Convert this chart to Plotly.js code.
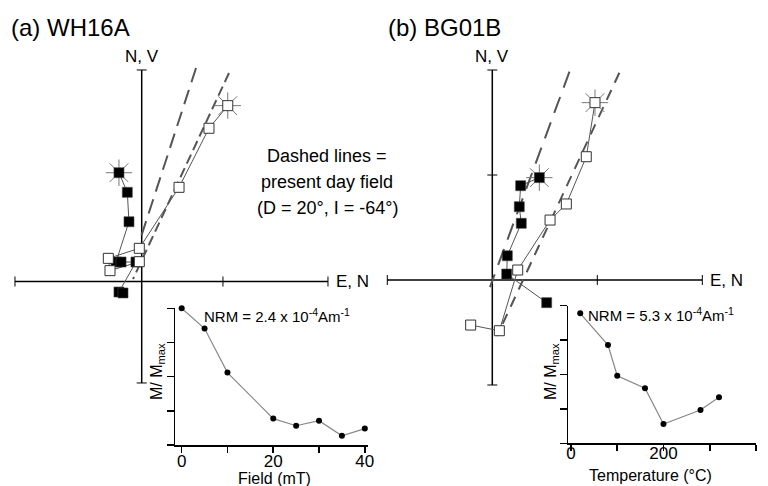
<!DOCTYPE html>
<html><head><meta charset="utf-8">
<script src="https://cdn.plot.ly/plotly-3.0.1.min.js"></script>
<style>html,body{margin:0;padding:0;background:#fff}</style>
</head><body><div id="chart" style="width:768px;height:486px"></div>
<script>
// ---------- Panel (a) WH16A : orthogonal vector plot ----------
const aHorizE = [-0.218, -0.138, -0.122, -0.246, -0.198, -0.055, -0.218, -0.179];
const aHorizN = [1.043, 0.855, 0.573, 0.187, 0.187, 0.187, -0.101, -0.110];
const aVertN  = [0.825, 0.645, 0.358, -0.023, -0.320, -0.304, -0.023];
const aVertUp = [1.686, 1.469, 0.903, 0.318, 0.222, 0.104, 0.190];
const aFieldHx = [0.521, -0.026], aFieldHy = [2.047, 0.369];
const aFieldVx = [0.837, -0.083], aFieldVy = [1.999, 0.024];
const aAxisE = [-1.215, 1.786], aAxisN = [-0.973, 2.028];
const aTicksE = [-1.215, 0.779, 1.786], aTicksN = [-0.973, 2.028];

// ---------- Panel (b) BG01B ----------
const bHorizE = [0.448, 0.270, 0.257, 0.276, 0.143, 0.137, 0.518];
const bHorizN = [0.975, 0.898, 0.698, 0.540, 0.231, 0.057, -0.216];
const bVertN  = [0.978, 0.895, 0.705, 0.550, 0.242, 0.067, -0.206];
const bVertUp = [1.689, 1.174, 0.724, 0.571, 0.095, -0.483, -0.429];
const bFieldHx = [0.735, -0.022], bFieldHy = [1.984, -0.067];
const bFieldVx = [1.210, 0.045], bFieldVy = [1.974, -0.533];
const bAxisE = [-1, 2], bAxisN = [-1, 2];
const bTicksE = [-1, 1, 2], bTicksN = [-1, 1, 2];

// ---------- Insets: demagnetisation curves ----------
const fieldSteps = [0, 5, 10, 20, 25, 30, 35, 40];
const fieldM = [1.0, 0.852, 0.530, 0.193, 0.141, 0.178, 0.067, 0.12];
const fieldTicks = [0, 20, 40];
const tempSteps = [20, 80, 100, 160, 200, 280, 320];
const tempM = [0.945, 0.714, 0.491, 0.400, 0.140, 0.242, 0.334];
const tempTicks = [0, 200, 400];
const mTicks = [0, 0.25, 0.5, 0.75, 1];

// ---------- layout helpers (pixel geometry) ----------
const W = 768, H = 486;
const FONT = 'Liberation Sans, Arial, Helvetica, sans-serif';
const PX = x => x / W, PY = y => 1 - y / H;
function xr(ox, unit, l, r) { return [(l - ox) / unit, (r - ox) / unit]; }
function yr(oy, unit, t, b) { return [(oy - b) / unit, (oy - t) / unit]; }

const A = {ox: 141.7, oy: 281.5, u: 104.3};
const B = {ox: 492.3, oy: 280.0, u: 105.0};

const traces = [];
function zij(xa, ya, hx, hy, vx, vy, fhx, fhy, fvx, fvy, dashH, dashV) {
  traces.push({x: fhx, y: fhy, xaxis: xa, yaxis: ya, mode: 'lines', hoverinfo: 'skip',
    line: {color: '#555', width: 2, dash: dashH}});
  traces.push({x: fvx, y: fvy, xaxis: xa, yaxis: ya, mode: 'lines', hoverinfo: 'skip',
    line: {color: '#555', width: 2, dash: dashV}});
  traces.push({x: hx, y: hy, xaxis: xa, yaxis: ya, mode: 'lines', cliponaxis: false,
    line: {color: '#555', width: 1}});
  traces.push({x: vx, y: vy, xaxis: xa, yaxis: ya, mode: 'lines', cliponaxis: false,
    line: {color: '#555', width: 1}});
  // NRM "sun" markers
  traces.push({x: [hx[0], vx[0]], y: [hy[0], vy[0]], xaxis: xa, yaxis: ya, mode: 'markers', cliponaxis: false,
    marker: {symbol: 'asterisk-open', size: 22, color: '#777', line: {color: '#777', width: 1}}});
  traces.push({x: hx, y: hy, xaxis: xa, yaxis: ya, mode: 'markers', cliponaxis: false,
    marker: {symbol: 'square', size: 10, color: '#000', line: {color: '#444', width: 0.6}}});
  traces.push({x: vx, y: vy, xaxis: xa, yaxis: ya, mode: 'markers', cliponaxis: false,
    marker: {symbol: 'square', size: 10, color: '#fff', line: {color: '#333', width: 1}}});
}
zij('x', 'y', aHorizE, aHorizN, aVertN, aVertUp, aFieldHx, aFieldHy, aFieldVx, aFieldVy, '15px,8px', '10px,5px');
zij('x2', 'y2', bHorizE, bHorizN, bVertN, bVertUp, bFieldHx, bFieldHy, bFieldVx, bFieldVy, '17px,10px', '11px,8px');

traces.push({x: fieldSteps, y: fieldM, xaxis: 'x3', yaxis: 'y3', mode: 'lines+markers', cliponaxis: false,
  line: {color: '#888', width: 1.2}, marker: {color: '#000', size: 6}});
traces.push({x: tempSteps, y: tempM, xaxis: 'x4', yaxis: 'y4', mode: 'lines+markers', cliponaxis: false,
  line: {color: '#888', width: 1.2}, marker: {color: '#000', size: 6}});

// axis cross shapes for the vector plots
const shapes = [];
function cross(xref, yref, axE, axN, tE, tN, u) {
  const t = 5 / u;
  shapes.push({type: 'line', xref, yref, x0: axE[0], x1: axE[1], y0: 0, y1: 0, layer: 'below', line: {color: '#000', width: 1.5}});
  shapes.push({type: 'line', xref, yref, x0: 0, x1: 0, y0: axN[0], y1: axN[1], layer: 'below', line: {color: '#000', width: 1.5}});
  tE.forEach(v => shapes.push({type: 'line', xref, yref, x0: v, x1: v, y0: -t, y1: t, layer: 'below', line: {color: '#000', width: 1}}));
  tN.forEach(v => shapes.push({type: 'line', xref, yref, y0: v, y1: v, x0: -t, x1: t, layer: 'below', line: {color: '#000', width: 1}}));
}
cross('x', 'y', aAxisE, aAxisN, aTicksE, aTicksN, A.u);
cross('x2', 'y2', bAxisE, bAxisN, bTicksE, bTicksN, B.u);

function ann(text, x, y, size, opts) {
  return Object.assign({text, x: PX(x), y: PY(y), xref: 'paper', yref: 'paper', showarrow: false,
    xanchor: 'center', yanchor: 'middle', font: {family: FONT, size, color: '#000'}}, opts || {});
}
const annotations = [
  ann('(a) WH16A', 9, 28, 24, {xanchor: 'left'}),
  ann('(b) BG01B', 386, 28, 24, {xanchor: 'left'}),
  ann('N, V', 141.7, 57, 17),
  ann('N, V', 492.3, 57, 17),
  ann('E, N', 334, 281, 17, {xanchor: 'left'}),
  ann('E, N', 708, 280, 17, {xanchor: 'left'}),
  ann('Dashed lines =', 327, 156, 18),
  ann('present day field', 327, 182, 18),
  ann('(D = 20°, I = -64°)', 327, 208, 18),
  ann('NRM = 2.4 x 10<sup>-4</sup>Am<sup>-1</sup>', 202, 315, 15, {xanchor: 'left'}),
  ann('NRM = 5.3 x 10<sup>-4</sup>Am<sup>-1</sup>', 586, 314, 15, {xanchor: 'left'}),
  ann('M/ M<sub>max</sub>', 157, 372, 16, {textangle: -90}),
  ann('M/ M<sub>max</sub>', 551, 372, 16, {textangle: -90}),
  ann('Field (mT)', 274, 478, 16),
  ann('Temperature (°C)', 650, 475, 16)
];

const hidden = {visible: false, showgrid: false, zeroline: false, fixedrange: true};
const insetY = {range: [0, 1], tickvals: mTicks, showticklabels: false, ticks: 'outside', ticklen: 7,
  tickwidth: 1.5, tickcolor: '#000', showline: true, linecolor: '#000', linewidth: 1.5,
  showgrid: false, zeroline: false};
function insetX(dtick, standoff) {
  return {ticks: 'outside', ticklen: 6, tickwidth: 1.5, tickcolor: '#000', showline: true,
    linecolor: '#000', linewidth: 1.5, showgrid: false, zeroline: false, ticklabelstandoff: standoff,
    minor: {dtick, tick0: 0, ticks: 'outside', ticklen: 6, tickwidth: 1.5, tickcolor: '#000', showgrid: false},
    tickfont: {family: FONT, size: 17, color: '#000'}};
}

const layout = {
  width: W, height: H, margin: {l: 0, r: 0, t: 0, b: 0},
  paper_bgcolor: '#fff', plot_bgcolor: 'rgba(0,0,0,0)', showlegend: false,
  font: {family: FONT, color: '#000'},
  xaxis: Object.assign({domain: [0, 0.5], range: xr(A.ox, A.u, 0, 384)}, hidden),
  yaxis: Object.assign({domain: [0, 1], range: yr(A.oy, A.u, 0, 486)}, hidden),
  xaxis2: Object.assign({domain: [0.5, 1], range: xr(B.ox, B.u, 384, 768), anchor: 'y2'}, hidden),
  yaxis2: Object.assign({domain: [0, 1], range: yr(B.oy, B.u, 0, 486), anchor: 'x2'}, hidden),
  xaxis3: Object.assign({domain: [PX(175), PX(368)], range: [-1.46, 40.7], tickvals: fieldTicks, anchor: 'y3'}, insetX(10, -6)),
  yaxis3: Object.assign({domain: [PY(445), PY(308.3)], anchor: 'x3'}, insetY),
  xaxis4: Object.assign({domain: [PX(568.3), PX(756)], range: [-5.8, 400], tickvals: tempTicks, anchor: 'y4'}, insetX(100, -12)),
  yaxis4: Object.assign({domain: [PY(443.3), PY(305.7)], anchor: 'x4'}, insetY),
  shapes, annotations
};

Plotly.newPlot('chart', traces, layout, {staticPlot: true, displayModeBar: false});
</script></body></html>
